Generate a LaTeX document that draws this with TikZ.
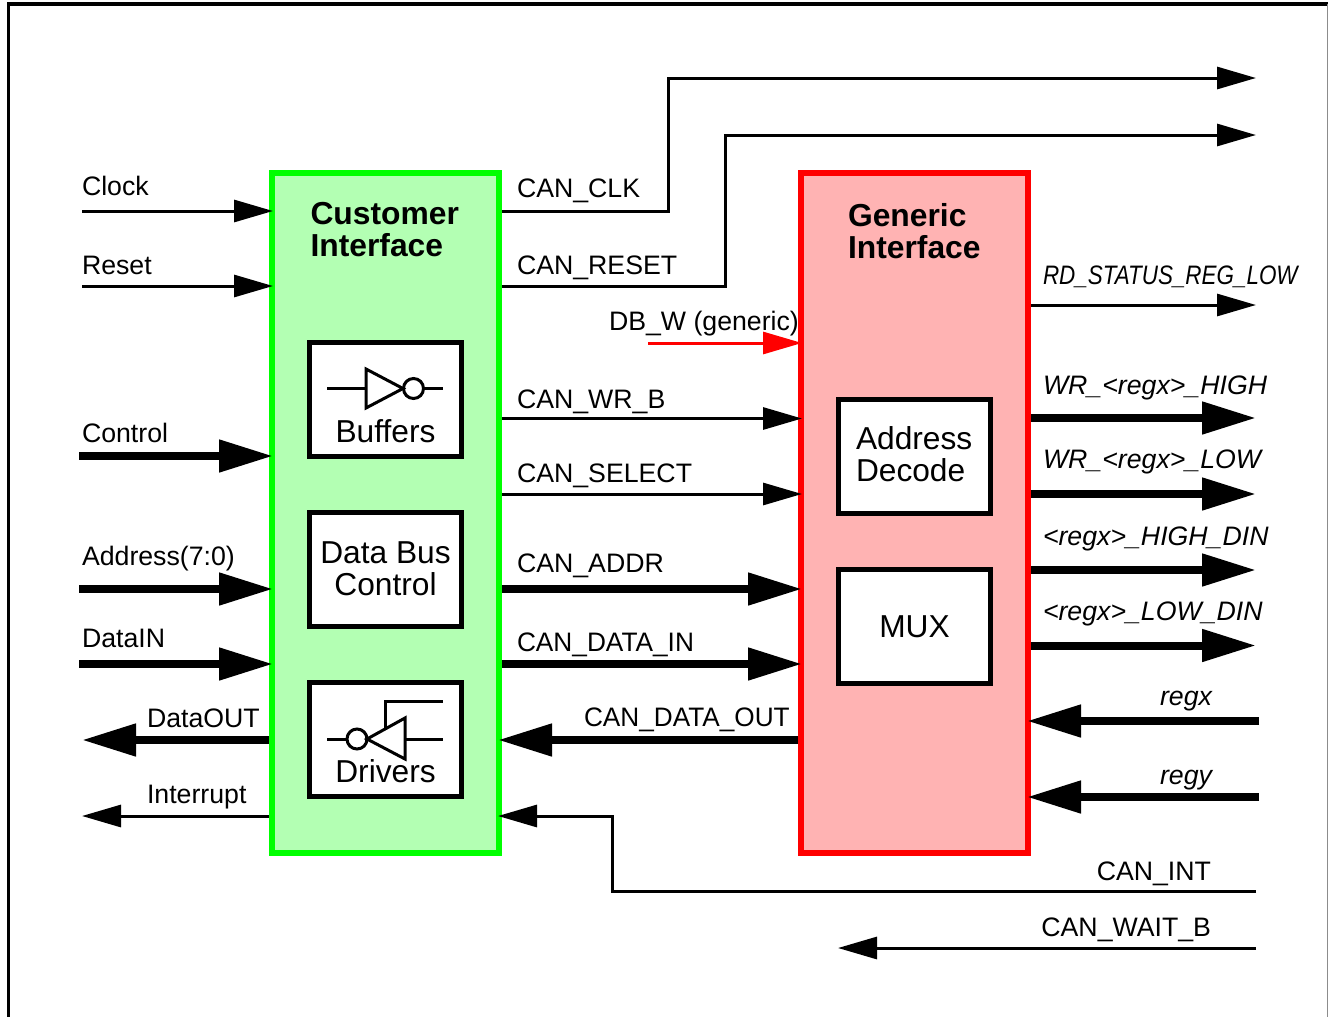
\documentclass[tikz,border=0pt]{standalone}
\usepackage{fontspec}
\usepackage{graphicx}
\setmainfont{Liberation Sans}
\usetikzlibrary{arrows.meta}
\definecolor{custfill}{RGB}{179,255,179}
\definecolor{custline}{RGB}{0,255,0}
\definecolor{genfill}{RGB}{255,179,179}
\definecolor{genline}{RGB}{255,0,0}
\tikzset{
  lab/.style={anchor=base west,inner sep=0pt,outer sep=0pt,font=\fontsize{26.7}{32}\selectfont},
  labr/.style={anchor=base east,inner sep=0pt,outer sep=0pt,font=\fontsize{26.7}{32}\selectfont},
  ilab/.style={lab,font=\fontsize{26.7}{32}\selectfont\itshape},
  ilabr/.style={labr,font=\fontsize{26.7}{32}\selectfont\itshape},
  titlelab/.style={anchor=base west,inner sep=0pt,outer sep=0pt,font=\fontsize{31.8}{32}\selectfont\bfseries},
  boxlab/.style={anchor=base,inner sep=0pt,outer sep=0pt,font=\fontsize{31.7}{32}\selectfont},
  boxlabl/.style={boxlab,anchor=base west},
  bigbox/.style={draw,line width=6pt,minimum width=227pt,minimum height=680pt,inner sep=0pt,outer sep=0pt},
  inbox/.style={draw=black,fill=white,line width=5pt,minimum width=152pt,minimum height=114pt,inner sep=0pt,outer sep=0pt},
  thinarrow/.style={line width=3pt,shorten >=-1pt,-{Triangle[length=39pt,width=22pt]}},
  thickarrow/.style={line width=8pt,shorten >=-1pt,-{Triangle[length=54pt,width=31pt]}},
  fromborder/.style={shorten <=3pt},
  gate/.style={line width=3pt}
}
\begin{document}
\begin{tikzpicture}[x=1pt,y=-1pt]
\useasboundingbox (0,0) rectangle (1328,1017);
\fill[white] (0,0) rectangle (1328,1017);
\draw[line width=3.2pt,black] (8.5,1017) -- (8.5,4) -- (1328,4);
\draw[line width=1pt,black!45] (1327.5,4) -- (1327.5,1017);

% main blocks
\node[bigbox,draw=custline,fill=custfill] (cust) at (385.5,513) {};
\node[bigbox,draw=genline,fill=genfill] (gen) at (914.5,513) {};
\node[inbox] (buf) at (385,399.5) {};
\node[inbox] (dbc) at (385,569.5) {};
\node[inbox] (drv) at (385,739.5) {};
\node[inbox] (dec) at (914.5,456.5) {};
\node[inbox] (mux) at (914.5,626.5) {};

\node[titlelab] (custa) at (310.5,224) {Customer};
\node[titlelab] (custb) at (310.5,256) {Interface};
\node[titlelab] (gena) at (848,226) {Generic};
\node[titlelab] (genb) at (848,258) {Interface};
\node[boxlab] (buft) at (385.5,442) {Buffers};
\node[boxlab] (dbct) at (385.5,563) {Data Bus};
\node[boxlab] (dbcb) at (385.5,595) {Control};
\node[boxlab] (drvt) at (385.5,782) {Drivers};
\node[boxlabl] (dect) at (856,449) {Address};
\node[boxlabl] (decb) at (856,481) {Decode};
\node[boxlab] (muxt) at (914.5,637) {MUX};

% gate symbols
\draw[gate] (327,388) -- (366,388);
\draw[gate,line join=miter] (366,369) -- (403,388.5) -- (366,408) -- cycle;
\draw[gate] (413.5,388.5) circle (10pt);
\draw[gate] (423.5,388) -- (443,388);
\draw[gate] (327,739) -- (347,739);
\draw[gate] (357,739) circle (10pt);
\draw[gate,line join=miter] (405,718) -- (367,739) -- (405,759) -- cycle;
\draw[gate] (405,739) -- (443,739);
\draw[gate] (385,728) -- (385,701) -- (443,701);

% free ends
\coordinate (clkin) at (82,211);
\coordinate (rstin) at (82,286);
\coordinate (ctlin) at (79,456);
\coordinate (adrin) at (79,589);
\coordinate (datin) at (79,664);
\coordinate (datout) at (83,740);
\coordinate (intout) at (83,816);
\coordinate (clkout) at (1255,78);
\coordinate (rstout) at (1255,135);
\coordinate (dbwin) at (648,343);
\coordinate (rdout) at (1255,305);
\coordinate (wrhout) at (1255,418);
\coordinate (wrlout) at (1255,494);
\coordinate (hdout) at (1255,570);
\coordinate (ldout) at (1255,645.5);
\coordinate (regxin) at (1259,721);
\coordinate (regyin) at (1259,797);
\coordinate (intin) at (1256,891);
\coordinate (intbus) at (612,816);
\coordinate (waitin) at (1256,948);
\coordinate (waitout) at (839,948);
\coordinate (wrb) at (0,418.5);
\coordinate (sel) at (0,494);
\coordinate (adr) at (0,589);
\coordinate (din) at (0,664);
\coordinate (dout) at (0,740);

% left connectors
\draw[thinarrow] (clkin) -- (clkin -| cust.west);
\draw[thinarrow] (rstin) -- (rstin -| cust.west);
\draw[thickarrow] (ctlin) -- (ctlin -| cust.west);
\draw[thickarrow] (adrin) -- (adrin -| cust.west);
\draw[thickarrow] (datin) -- (datin -| cust.west);
\draw[thickarrow,fromborder] (datout -| cust.west) -- (datout);
\draw[thinarrow,fromborder] (intout -| cust.west) -- (intout);

% middle connectors
\draw[thinarrow,fromborder] (clkin -| cust.east) -| (668,78) -- (clkout);
\draw[thinarrow,fromborder] (rstin -| cust.east) -| (725,135) -- (rstout);
\draw[thinarrow,draw=red,-{Triangle[length=39pt,width=22pt,fill=red]}] (dbwin) -- (dbwin -| gen.west);
\draw[thinarrow,fromborder] (wrb -| cust.east) -- (wrb -| gen.west);
\draw[thinarrow,fromborder] (sel -| cust.east) -- (sel -| gen.west);
\draw[thickarrow,fromborder] (adr -| cust.east) -- (adr -| gen.west);
\draw[thickarrow,fromborder] (din -| cust.east) -- (din -| gen.west);
\draw[thickarrow,fromborder] (dout -| gen.west) -- (dout -| cust.east);

% right connectors
\draw[thinarrow,fromborder] (rdout -| gen.east) -- (rdout);
\draw[thickarrow,fromborder] (wrhout -| gen.east) -- (wrhout);
\draw[thickarrow,fromborder] (wrlout -| gen.east) -- (wrlout);
\draw[thickarrow,fromborder] (hdout -| gen.east) -- (hdout);
\draw[thickarrow,fromborder] (ldout -| gen.east) -- (ldout);
\draw[thickarrow] (regxin) -- (regxin -| gen.east);
\draw[thickarrow] (regyin) -- (regyin -| gen.east);
\draw[thinarrow] (intin) -| (intbus) -- (intbus -| cust.east);
\draw[thinarrow] (waitin) -- (waitout);

% labels
\node[lab] (t1) at (82,195) {Clock};
\node[lab] (t2) at (82,274) {Reset};
\node[lab] (t3) at (82,442) {Control};
\node[lab] (t4) at (82,565) {Address(7:0)};
\node[lab] (t5) at (82,647) {DataIN};
\node[lab] (t6) at (147,727) {DataOUT};
\node[lab] (t7) at (147,803) {Interrupt};
\node[lab] (t8) at (517,197.5) {CAN\_CLK};
\node[lab] (t9) at (517,274) {CAN\_RESET};
\node[lab] (t10) at (609,330) {DB\_W (generic)};
\node[lab] (t11) at (517,408) {CAN\_WR\_B};
\node[lab] (t12) at (517,482) {CAN\_SELECT};
\node[lab] (t13) at (517,572) {CAN\_ADDR};
\node[lab] (t14) at (517,651) {\scalebox{.983}[1]{CAN\_DATA\_IN}};
\node[lab] (t15) at (584,726) {\scalebox{.981}[1]{CAN\_DATA\_OUT}};
\node[ilab] (t16) at (1043,284) {\scalebox{.84}[1]{RD\_STATUS\_REG\_LOW}};
\node[ilab] (t17) at (1043,394) {WR\_<regx>\_HIGH};
\node[ilab] (t18) at (1043,468) {WR\_<regx>\_LOW};
\node[ilab] (t19) at (1043,545) {<regx>\_HIGH\_DIN};
\node[ilab] (t20) at (1043,620) {<regx>\_LOW\_DIN};
\node[ilabr] (t21) at (1212,705) {regx};
\node[ilabr] (t22) at (1212,784) {regy};
\node[labr] (t23) at (1211,880) {CAN\_INT};
\node[labr] (t24) at (1211,936) {CAN\_WAIT\_B};
\end{tikzpicture}
\end{document}
